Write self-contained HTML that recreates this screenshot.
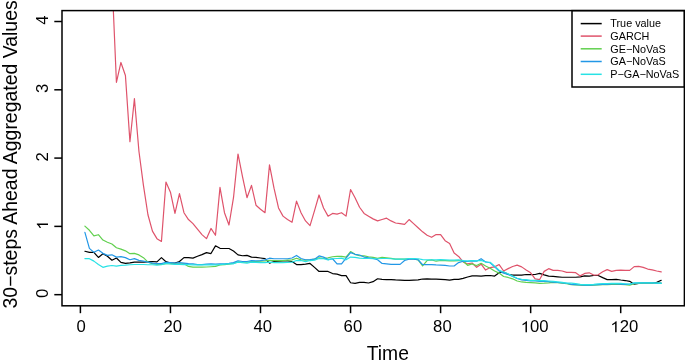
<!DOCTYPE html>
<html><head><meta charset="utf-8"><style>
html,body{margin:0;padding:0;background:#fff;}
body{width:685px;height:364px;overflow:hidden;}
svg{display:block;font-family:"Liberation Sans",sans-serif;will-change:transform;}
</style></head><body>
<div id="w"><svg width="685" height="364" viewBox="0 0 685 364">
<rect x="0" y="0" width="685" height="364" fill="#fff"/>
<defs><clipPath id="pc"><rect x="62.0" y="10.6" width="622.4" height="295.2"/></clipPath></defs>
<g>
<g clip-path="url(#pc)" fill="none" stroke-width="1.2" stroke-linejoin="round" stroke-linecap="round">
<path d="M84.90,251.24 L89.41,252.33 L93.91,252.47 L98.41,257.45 L102.91,253.70 L107.42,256.22 L111.92,260.18 L116.42,258.00 L120.92,262.37 L125.43,263.39 L129.93,262.92 L134.43,262.10 L138.93,262.10 L143.44,262.10 L147.94,261.89 L152.44,261.48 L156.94,261.89 L161.44,257.66 L165.95,261.69 L170.45,263.05 L174.95,263.05 L179.46,261.48 L183.96,257.59 L188.46,257.59 L192.96,258.13 L197.47,256.29 L201.97,254.65 L206.47,252.67 L210.97,253.56 L215.48,245.84 L219.98,248.30 L224.48,248.51 L228.98,248.51 L233.49,251.03 L237.99,254.86 L242.49,255.74 L246.99,255.40 L251.50,257.11 L256.00,257.32 L260.50,258.00 L265.00,258.68 L269.50,263.12 L274.01,261.48 L278.51,261.21 L283.01,260.87 L287.51,260.87 L292.02,261.48 L296.52,264.55 L301.02,264.55 L305.53,264.14 L310.03,263.46 L314.53,267.35 L319.03,271.45 L323.54,271.45 L328.04,271.45 L332.54,273.57 L337.04,274.18 L341.55,275.62 L346.05,275.62 L350.55,282.72 L355.05,283.33 L359.56,282.45 L364.06,282.45 L368.56,282.99 L373.06,281.69 L377.57,278.76 L382.07,279.30 L386.57,279.65 L391.07,279.65 L395.58,279.92 L400.08,280.06 L404.58,280.40 L409.08,280.40 L413.59,280.19 L418.09,279.92 L422.59,279.03 L427.09,278.83 L431.60,279.03 L436.10,279.17 L440.60,279.30 L445.10,279.71 L449.61,280.06 L454.11,279.30 L458.61,279.30 L463.11,278.35 L467.62,276.98 L472.12,275.96 L476.62,275.96 L481.12,276.10 L485.62,275.55 L490.13,275.48 L494.63,276.10 L499.13,272.75 L503.63,272.00 L508.14,274.39 L512.64,275.07 L517.14,275.07 L521.65,275.07 L526.15,274.52 L530.65,274.66 L535.15,274.52 L539.66,273.43 L544.16,274.93 L548.66,276.16 L553.16,276.44 L557.67,276.85 L562.17,277.26 L566.67,277.26 L571.17,277.26 L575.68,277.26 L580.18,276.85 L584.68,275.89 L589.18,276.16 L593.69,275.48 L598.19,275.48 L602.69,277.60 L607.19,279.58 L611.70,279.58 L616.20,279.30 L620.70,279.99 L625.20,280.53 L629.71,281.35 L634.21,284.15 L638.71,283.33 L643.21,282.79 L647.72,282.79 L652.22,282.79 L656.72,282.38 L661.22,280.26" stroke="#000000" />
<path d="M84.90,-115.07 L89.41,-101.41 L93.91,-87.75 L98.41,-74.10 L102.91,-60.44 L107.42,-46.78 L111.92,-22.88 L116.42,82.29 L120.92,62.48 L125.43,75.46 L129.93,141.70 L134.43,98.68 L138.93,151.26 L143.44,185.41 L147.94,214.77 L152.44,231.16 L156.94,238.67 L161.44,241.40 L165.95,181.99 L170.45,192.24 L174.95,213.40 L179.46,193.60 L183.96,212.72 L188.46,219.55 L192.96,223.65 L197.47,229.11 L201.97,234.57 L206.47,238.67 L210.97,228.43 L215.48,235.26 L219.98,187.45 L224.48,212.72 L228.98,225.01 L233.49,197.70 L237.99,153.99 L242.49,176.53 L246.99,197.70 L251.50,185.41 L256.00,205.21 L260.50,209.31 L265.00,212.72 L269.50,164.92 L274.01,188.14 L278.51,207.94 L283.01,216.14 L287.51,219.55 L292.02,222.28 L296.52,201.11 L301.02,212.72 L305.53,220.92 L310.03,225.70 L314.53,210.67 L319.03,194.97 L323.54,207.94 L328.04,216.14 L332.54,213.40 L337.04,214.09 L341.55,212.72 L346.05,216.14 L350.55,189.50 L355.05,197.70 L359.56,207.26 L364.06,213.40 L368.56,216.14 L373.06,218.87 L377.57,220.92 L382.07,219.55 L386.57,218.19 L391.07,220.92 L395.58,222.97 L400.08,223.65 L404.58,224.33 L409.08,219.55 L413.59,223.65 L418.09,227.75 L422.59,231.84 L427.09,235.26 L431.60,237.31 L436.10,234.57 L440.60,234.57 L445.10,240.72 L449.61,243.45 L454.11,253.01 L458.61,256.43 L463.11,261.89 L467.62,263.94 L472.12,262.98 L476.62,267.35 L481.12,264.14 L485.62,270.09 L490.13,267.56 L494.63,266.88 L499.13,264.55 L503.63,270.97 L508.14,268.65 L512.64,266.47 L517.14,265.17 L521.65,266.88 L526.15,270.02 L530.65,272.82 L535.15,278.90 L539.66,279.58 L544.16,271.38 L548.66,268.65 L553.16,270.36 L557.67,270.36 L562.17,270.97 L566.67,272.34 L571.17,272.34 L575.68,272.68 L580.18,275.89 L584.68,273.43 L589.18,272.82 L593.69,275.07 L598.19,274.87 L602.69,271.79 L607.19,269.61 L611.70,271.38 L616.20,270.36 L620.70,270.09 L625.20,270.36 L629.71,270.36 L634.21,266.60 L638.71,266.33 L643.21,267.35 L647.72,269.06 L652.22,269.95 L656.72,270.97 L661.22,271.79" stroke="#DF536B" />
<path d="M84.90,226.18 L89.41,230.27 L93.91,235.94 L98.41,234.71 L102.91,240.04 L107.42,242.22 L111.92,244.00 L116.42,247.75 L120.92,249.12 L125.43,250.83 L129.93,253.70 L134.43,253.42 L138.93,254.93 L143.44,257.66 L147.94,262.10 L152.44,263.67 L156.94,264.49 L161.44,264.49 L165.95,263.67 L170.45,263.73 L174.95,263.94 L179.46,263.73 L183.96,263.73 L188.46,266.40 L192.96,267.15 L197.47,267.15 L201.97,267.15 L206.47,267.01 L210.97,266.74 L215.48,266.40 L219.98,264.96 L224.48,264.55 L228.98,264.21 L233.49,263.26 L237.99,261.89 L242.49,262.23 L246.99,262.23 L251.50,261.48 L256.00,261.48 L260.50,261.21 L265.00,260.93 L269.50,260.25 L274.01,260.53 L278.51,260.53 L283.01,260.53 L287.51,260.12 L292.02,259.84 L296.52,258.20 L301.02,259.84 L305.53,260.18 L310.03,259.84 L314.53,259.16 L319.03,257.79 L323.54,258.48 L328.04,257.79 L332.54,256.77 L337.04,256.43 L341.55,256.43 L346.05,257.11 L350.55,251.58 L355.05,254.31 L359.56,255.74 L364.06,255.95 L368.56,256.77 L373.06,257.45 L377.57,258.41 L382.07,257.38 L386.57,257.79 L391.07,258.41 L395.58,259.16 L400.08,259.16 L404.58,259.16 L409.08,258.82 L413.59,258.82 L418.09,259.84 L422.59,265.99 L427.09,260.53 L431.60,259.84 L436.10,261.21 L440.60,260.53 L445.10,260.53 L449.61,260.93 L454.11,260.93 L458.61,260.53 L463.11,261.21 L467.62,265.31 L472.12,263.94 L476.62,265.58 L481.12,263.26 L485.62,265.99 L490.13,268.24 L494.63,270.97 L499.13,273.09 L503.63,276.50 L508.14,277.46 L512.64,278.83 L517.14,281.01 L521.65,281.97 L526.15,282.38 L530.65,282.65 L535.15,282.92 L539.66,283.33 L544.16,283.20 L548.66,282.92 L553.16,282.38 L557.67,282.72 L562.17,283.06 L566.67,283.74 L571.17,284.56 L575.68,284.90 L580.18,285.25 L584.68,285.52 L589.18,285.45 L593.69,285.25 L598.19,284.84 L602.69,284.56 L607.19,284.56 L611.70,284.29 L616.20,284.29 L620.70,284.43 L625.20,284.77 L629.71,285.11 L634.21,283.74 L638.71,283.40 L643.21,283.20 L647.72,283.20 L652.22,283.20 L656.72,283.20 L661.22,283.20" stroke="#61D04F" />
<path d="M84.90,232.39 L89.41,248.37 L93.91,252.33 L98.41,250.01 L102.91,253.35 L107.42,255.40 L111.92,254.79 L116.42,257.11 L120.92,256.63 L125.43,257.66 L129.93,259.71 L134.43,258.61 L138.93,260.39 L143.44,261.21 L147.94,262.10 L152.44,263.19 L156.94,263.67 L161.44,263.67 L165.95,262.23 L170.45,262.57 L174.95,263.05 L179.46,262.57 L183.96,263.05 L188.46,263.60 L192.96,263.94 L197.47,264.55 L201.97,264.55 L206.47,264.21 L210.97,263.87 L215.48,264.14 L219.98,263.87 L224.48,263.87 L228.98,263.46 L233.49,262.57 L237.99,260.73 L242.49,261.48 L246.99,261.48 L251.50,260.66 L256.00,260.93 L260.50,260.66 L265.00,259.84 L269.50,258.20 L274.01,258.75 L278.51,258.75 L283.01,258.75 L287.51,258.75 L292.02,258.00 L296.52,255.40 L301.02,258.48 L305.53,259.77 L310.03,259.57 L314.53,259.16 L319.03,255.95 L323.54,257.11 L328.04,259.57 L332.54,258.75 L337.04,263.94 L341.55,263.94 L346.05,258.13 L350.55,252.67 L355.05,254.31 L359.56,254.99 L364.06,257.04 L368.56,257.73 L373.06,258.48 L377.57,259.77 L382.07,263.46 L386.57,263.94 L391.07,264.35 L395.58,264.35 L400.08,264.35 L404.58,260.53 L409.08,259.09 L413.59,259.09 L418.09,259.77 L422.59,264.62 L427.09,264.62 L431.60,264.62 L436.10,264.96 L440.60,265.10 L445.10,265.37 L449.61,265.99 L454.11,265.99 L458.61,262.57 L463.11,261.21 L467.62,261.48 L472.12,260.93 L476.62,261.21 L481.12,258.68 L485.62,261.89 L490.13,262.78 L494.63,266.88 L499.13,270.97 L503.63,273.09 L508.14,274.39 L512.64,276.50 L517.14,278.55 L521.65,279.92 L526.15,280.33 L530.65,281.01 L535.15,281.01 L539.66,281.35 L544.16,281.35 L548.66,281.69 L553.16,282.04 L557.67,282.51 L562.17,282.92 L566.67,283.27 L571.17,284.29 L575.68,284.63 L580.18,284.97 L584.68,285.11 L589.18,285.11 L593.69,284.97 L598.19,284.56 L602.69,284.29 L607.19,284.29 L611.70,284.02 L616.20,284.02 L620.70,284.15 L625.20,284.43 L629.71,284.09 L634.21,283.06 L638.71,282.79 L643.21,282.79 L647.72,282.92 L652.22,282.92 L656.72,283.06 L661.22,283.06" stroke="#2297E6" />
<path d="M84.90,258.54 L89.41,258.68 L93.91,261.14 L98.41,264.49 L102.91,267.35 L107.42,266.06 L111.92,265.51 L116.42,266.06 L120.92,265.31 L125.43,265.17 L129.93,264.76 L134.43,264.49 L138.93,264.49 L143.44,264.49 L147.94,264.76 L152.44,264.76 L156.94,265.17 L161.44,264.76 L165.95,263.39 L170.45,263.94 L174.95,264.28 L179.46,264.28 L183.96,264.62 L188.46,264.62 L192.96,264.90 L197.47,264.90 L201.97,264.90 L206.47,264.90 L210.97,264.90 L215.48,264.90 L219.98,264.62 L224.48,264.21 L228.98,263.87 L233.49,263.80 L237.99,262.16 L242.49,262.71 L246.99,263.05 L251.50,262.16 L256.00,262.37 L260.50,262.64 L265.00,262.64 L269.50,262.16 L274.01,262.64 L278.51,262.64 L283.01,262.64 L287.51,262.44 L292.02,262.16 L296.52,260.53 L301.02,260.53 L305.53,261.55 L310.03,260.53 L314.53,260.12 L319.03,258.48 L323.54,258.75 L328.04,259.84 L332.54,258.75 L337.04,258.48 L341.55,258.13 L346.05,259.84 L350.55,257.11 L355.05,257.32 L359.56,258.13 L364.06,258.48 L368.56,258.48 L373.06,258.75 L377.57,258.75 L382.07,258.48 L386.57,258.48 L391.07,258.75 L395.58,259.16 L400.08,259.16 L404.58,259.16 L409.08,258.48 L413.59,258.48 L418.09,258.75 L422.59,259.57 L427.09,259.84 L431.60,259.84 L436.10,259.84 L440.60,259.57 L445.10,259.84 L449.61,260.12 L454.11,260.12 L458.61,259.84 L463.11,260.53 L467.62,260.93 L472.12,260.53 L476.62,260.93 L481.12,260.39 L485.62,262.03 L490.13,262.23 L494.63,266.12 L499.13,270.29 L503.63,272.00 L508.14,273.70 L512.64,276.10 L517.14,278.28 L521.65,279.24 L526.15,279.65 L530.65,280.33 L535.15,280.26 L539.66,280.67 L544.16,280.67 L548.66,281.01 L553.16,281.35 L557.67,281.90 L562.17,282.38 L566.67,283.06 L571.17,283.06 L575.68,283.61 L580.18,284.43 L584.68,284.63 L589.18,284.63 L593.69,284.43 L598.19,283.95 L602.69,283.61 L607.19,283.61 L611.70,283.33 L616.20,283.33 L620.70,283.47 L625.20,283.74 L629.71,284.09 L634.21,282.79 L638.71,282.79 L643.21,282.79 L647.72,282.79 L652.22,282.92 L656.72,283.06 L661.22,283.33" stroke="#28E2E5" />
</g>
<rect x="572.0" y="10.6" width="112.40" height="76.40" fill="#fff" stroke="#000" stroke-width="1.5"/>
<g><line x1="580.7" y1="23.6" x2="601.7" y2="23.6" stroke="#000000" stroke-width="1.5"/><line x1="580.7" y1="36.1" x2="601.7" y2="36.1" stroke="#DF536B" stroke-width="1.5"/><line x1="580.7" y1="48.8" x2="601.7" y2="48.8" stroke="#61D04F" stroke-width="1.5"/><line x1="580.7" y1="61.5" x2="601.7" y2="61.5" stroke="#2297E6" stroke-width="1.5"/><line x1="580.7" y1="74.3" x2="601.7" y2="74.3" stroke="#28E2E5" stroke-width="1.5"/></g>
<g font-size="10.6" fill="#000"><text transform="translate(610.3,27.30) scale(1.022,1)">True value</text><text transform="translate(610.3,39.80) scale(1.022,1)">GARCH</text><text transform="translate(610.3,52.50) scale(1.022,1)">GE−NoVaS</text><text transform="translate(610.3,65.20) scale(1.022,1)">GA−NoVaS</text><text transform="translate(610.3,78.00) scale(1.022,1)">P−GA−NoVaS</text></g>
<rect x="62.0" y="10.6" width="622.40" height="295.20" fill="none" stroke="#000" stroke-width="1.5"/>
<g stroke="#000" stroke-width="1.5"><line x1="54.30" y1="294.67" x2="62.00" y2="294.67" /><line x1="54.30" y1="226.38" x2="62.00" y2="226.38" /><line x1="54.30" y1="158.09" x2="62.00" y2="158.09" /><line x1="54.30" y1="89.80" x2="62.00" y2="89.80" /><line x1="54.30" y1="21.51" x2="62.00" y2="21.51" /><line x1="80.40" y1="305.80" x2="80.40" y2="313.20" /><line x1="170.45" y1="305.80" x2="170.45" y2="313.20" /><line x1="260.50" y1="305.80" x2="260.50" y2="313.20" /><line x1="350.55" y1="305.80" x2="350.55" y2="313.20" /><line x1="440.60" y1="305.80" x2="440.60" y2="313.20" /><line x1="530.65" y1="305.80" x2="530.65" y2="313.20" /><line x1="620.70" y1="305.80" x2="620.70" y2="313.20" /></g>
<g font-size="15.6" fill="#000"><g transform="translate(48.00,293.32) rotate(-90)"><text transform="translate(-4.640,0) scale(1.07,1)">0</text></g><g transform="translate(48.00,225.18) rotate(-90)"><path d="M0.373,0 L0.285,0 L0.285,0.561 Q0.22,0.50 0.109,0.448 L0.109,0.533 Q0.19,0.571 0.25,0.627 Q0.30,0.675 0.318,0.716 L0.373,0.716 Z" transform="translate(-4.640,0) scale(16.6920,-15.6000)"/></g><g transform="translate(48.00,156.74) rotate(-90)"><text transform="translate(-4.640,0) scale(1.07,1)">2</text></g><g transform="translate(48.00,88.45) rotate(-90)"><text transform="translate(-4.640,0) scale(1.07,1)">3</text></g><g transform="translate(48.00,20.16) rotate(-90)"><text transform="translate(-4.640,0) scale(1.07,1)">4</text></g><g transform="translate(81.20,332.3)"><text transform="translate(-4.640,0) scale(1.07,1)">0</text></g><g transform="translate(172.75,332.3)"><text transform="translate(-9.281,0) scale(1.07,1)">20</text></g><g transform="translate(262.70,332.3)"><text transform="translate(-9.281,0) scale(1.07,1)">40</text></g><g transform="translate(352.90,332.3)"><text transform="translate(-9.281,0) scale(1.07,1)">60</text></g><g transform="translate(442.40,332.3)"><text transform="translate(-9.281,0) scale(1.07,1)">80</text></g><g transform="translate(534.65,332.3)"><path d="M0.373,0 L0.285,0 L0.285,0.561 Q0.22,0.50 0.109,0.448 L0.109,0.533 Q0.19,0.571 0.25,0.627 Q0.30,0.675 0.318,0.716 L0.373,0.716 Z" transform="translate(-13.921,0) scale(16.6920,-15.6000)"/><text transform="translate(-4.640,0) scale(1.07,1)">00</text></g><g transform="translate(624.30,332.3)"><path d="M0.373,0 L0.285,0 L0.285,0.561 Q0.22,0.50 0.109,0.448 L0.109,0.533 Q0.19,0.571 0.25,0.627 Q0.30,0.675 0.318,0.716 L0.373,0.716 Z" transform="translate(-13.921,0) scale(16.6920,-15.6000)"/><text transform="translate(-4.640,0) scale(1.07,1)">20</text></g></g>
<text x="387.8" y="360.2" text-anchor="middle" font-size="19.3" fill="#000">Time</text>
<text transform="translate(17.4,154.4) rotate(-90)" text-anchor="middle" font-size="19.45" fill="#000">30−steps Ahead Aggregated Values</text>
</g>
</svg></div>
</body></html>
